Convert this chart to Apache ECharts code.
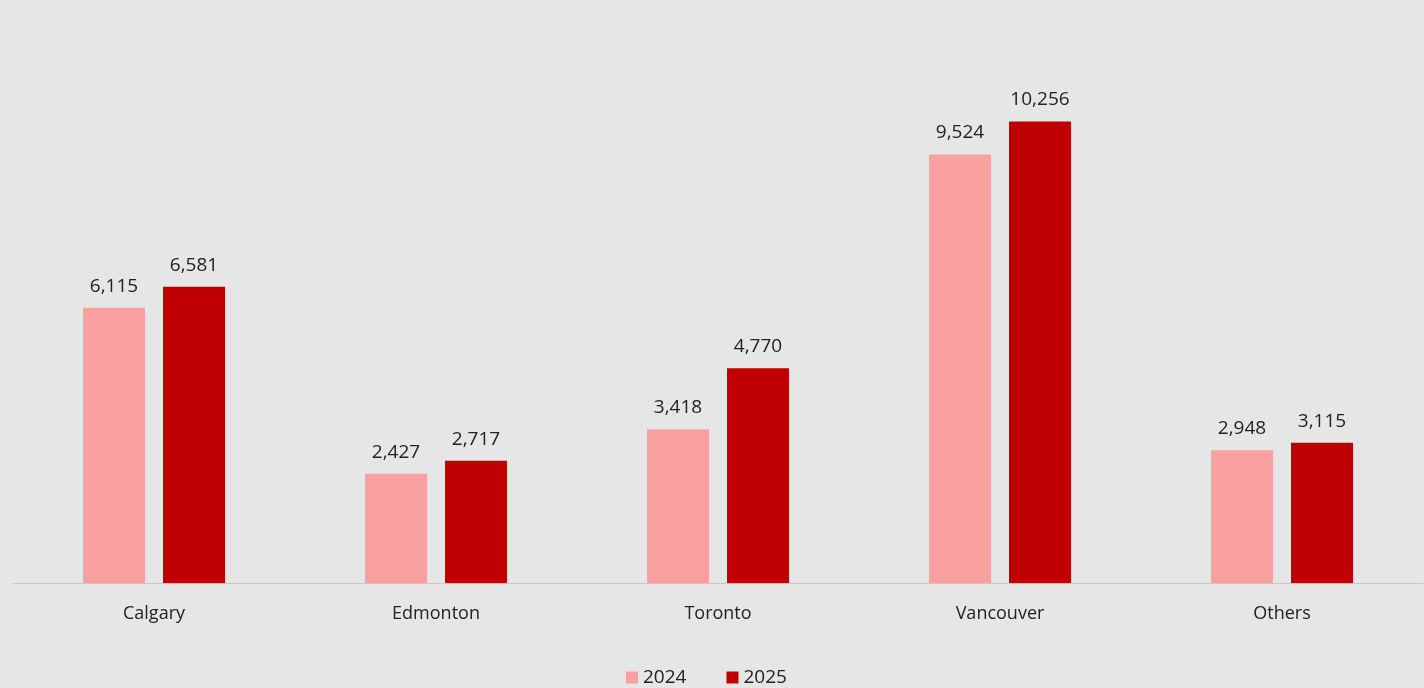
<!DOCTYPE html>
<html>
<head>
<meta charset="utf-8">
<script src="https://cdn.jsdelivr.net/npm/echarts@6/dist/echarts.min.js"></script>
<style>
  html, body { margin: 0; padding: 0; background: #e6e6e6; }
  #chart { width: 1424px; height: 688px; }
</style>
</head>
<body>
<div id="chart"></div>
<script>
var cities = ['Calgary', 'Edmonton', 'Toronto', 'Vancouver', 'Others'];
var values2024 = [6115, 2427, 3418, 9524, 2948];
var values2025 = [6581, 2717, 4770, 10256, 3115];

var myChart = echarts.init(document.getElementById('chart'));

var labelStyle = {
    show: true,
    position: 'top',
    distance: 12,
    color: '#222',
    fontSize: 19,
    fontFamily: 'Open Sans',
    formatter: function (p) {
        return p.value.toLocaleString('en-US');
    }
};

var option = {
    backgroundColor: '#e6e6e6',
    animation: false,
    legend: {
        data: ['2024', '2025'],
        top: 663,
        left: 621,
        itemWidth: 12,
        itemHeight: 12,
        itemGap: 40,
        icon: 'rect',
        textStyle: { color: '#222', fontSize: 19, fontFamily: 'Open Sans' }
    },
    grid: {
        top: 43,
        left: 13,
        right: 1,
        bottom: 105
    },
    xAxis: {
        type: 'category',
        data: cities,
        axisLine: { lineStyle: { color: '#c8c8c8', width: 1 } },
        axisTick: { show: false },
        axisLabel: { color: '#222', fontSize: 18, fontFamily: 'Open Sans', margin: 22 }
    },
    yAxis: {
        type: 'value',
        min: 0,
        max: 12000,
        show: false,
        splitLine: { show: false }
    },
    series: [
        {
            name: '2024',
            type: 'bar',
            data: values2024,
            barWidth: 62,
            barGap: '29%',
            itemStyle: { color: '#f9a0a0' },
            label: labelStyle
        },
        {
            name: '2025',
            type: 'bar',
            data: values2025,
            barWidth: 62,
            itemStyle: { color: '#c00000' },
            label: labelStyle
        }
    ]
};

myChart.setOption(option);
</script>
</body>
</html>
